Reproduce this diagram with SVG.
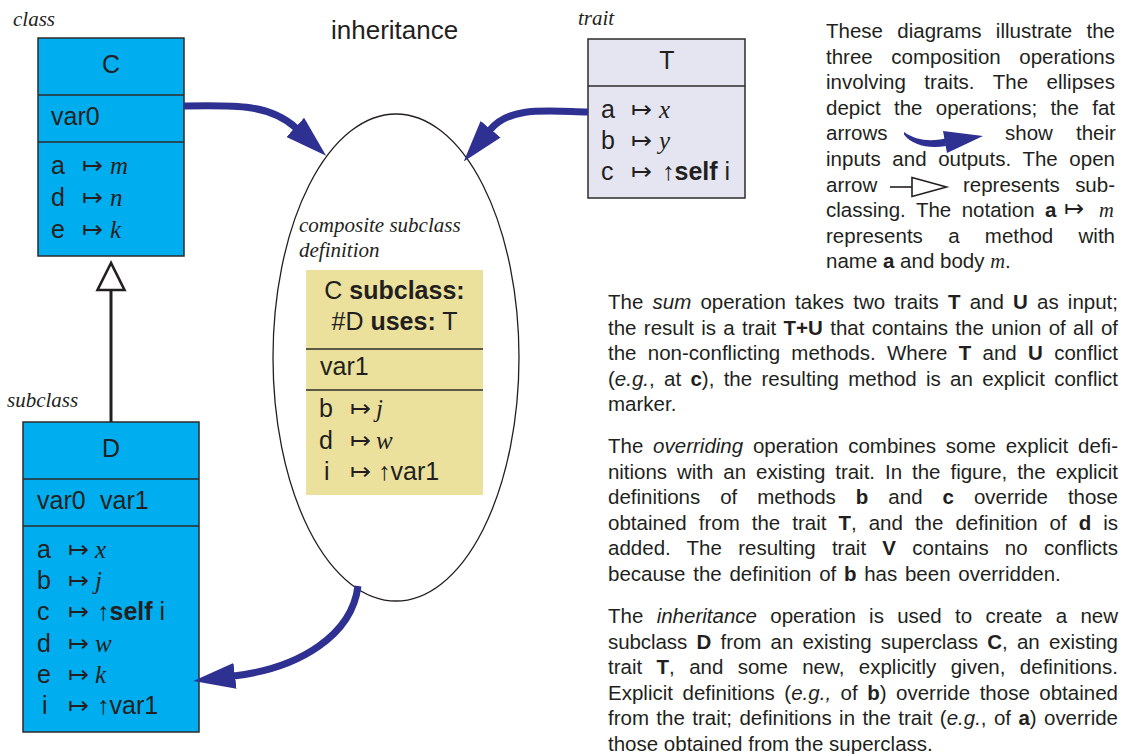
<svg xmlns="http://www.w3.org/2000/svg" width="1126" height="754" viewBox="0 0 1126 754">
<defs>
<style>
.bx{stroke:#2b2b2b;stroke-width:1.5}
.cls{fill:#00aeef}
.trt{fill:#e5e5f2}
.def{fill:#ebe19c}
.rule{stroke:#2b2b2b;stroke-width:1.5}
.nm{font-family:"Liberation Sans",Arial,sans-serif;font-size:25px;fill:#231f20}
.map{font-family:"DejaVu Sans",sans-serif;font-weight:200}
.body{font-family:"Liberation Serif","Times New Roman",serif;font-style:italic}
.b{font-weight:bold}
.i{font-style:italic}
.cap{font-family:"Liberation Serif","Times New Roman",serif;font-style:italic;font-size:21px;fill:#231f20}
.p{font-family:"Liberation Sans",Arial,sans-serif;font-size:20.5px;fill:#231f20}
.fat{fill:none;stroke:#2e3192;stroke-width:7}
</style>
<marker id="fathead" markerUnits="userSpaceOnUse" markerWidth="42" markerHeight="26" refX="1" refY="13" orient="auto" viewBox="0 0 42 26">
<path d="M0,0 L42,13 L0,26 Z" fill="#2e3192"/>
</marker>
</defs>
<rect width="1126" height="754" fill="#fff"/>

<!-- operation title -->
<text x="331" y="39" font-family="Liberation Sans, Arial, sans-serif" font-size="26" fill="#231f20">inheritance</text>

<!-- superclass C -->
<g id="class-C">
<text class="cap" x="13" y="26">class</text>
<rect class="bx cls" x="38" y="38" width="146" height="218"/>
<line class="rule" x1="38" y1="95" x2="184" y2="95"/>
<line class="rule" x1="38" y1="142" x2="184" y2="142"/>
<text class="nm" x="111" y="73" text-anchor="middle">C</text>
<text class="nm" x="51" y="125">var0</text>
<text class="nm" y="174"><tspan x="51">a</tspan><tspan x="82" class="map">↦</tspan><tspan x="110" class="body">m</tspan></text>
<text class="nm" y="206"><tspan x="51">d</tspan><tspan x="82" class="map">↦</tspan><tspan x="110" class="body">n</tspan></text>
<text class="nm" y="238"><tspan x="51">e</tspan><tspan x="82" class="map">↦</tspan><tspan x="110" class="body">k</tspan></text>
</g>

<!-- subclass D -->
<g id="class-D">
<text class="cap" x="7" y="407">subclass</text>
<rect class="bx cls" x="23" y="422" width="176" height="310"/>
<line class="rule" x1="23" y1="479" x2="199" y2="479"/>
<line class="rule" x1="23" y1="526" x2="199" y2="526"/>
<text class="nm" x="111" y="457" text-anchor="middle">D</text>
<text class="nm" y="509"><tspan x="37">var0</tspan><tspan x="100">var1</tspan></text>
<text class="nm" y="558"><tspan x="37">a</tspan><tspan x="68" class="map">↦</tspan><tspan x="95" class="body">x</tspan></text>
<text class="nm" y="589"><tspan x="37">b</tspan><tspan x="68" class="map">↦</tspan><tspan x="95" class="body">j</tspan></text>
<text class="nm" y="620"><tspan x="37">c</tspan><tspan x="68" class="map">↦</tspan><tspan x="97">↑</tspan><tspan class="b">self</tspan> i</text>
<text class="nm" y="652"><tspan x="37">d</tspan><tspan x="68" class="map">↦</tspan><tspan x="95" class="body">w</tspan></text>
<text class="nm" y="683"><tspan x="37">e</tspan><tspan x="68" class="map">↦</tspan><tspan x="95" class="body">k</tspan></text>
<text class="nm" y="714"><tspan x="42">i</tspan><tspan x="68" class="map">↦</tspan><tspan x="97">↑var1</tspan></text>
</g>

<!-- trait T -->
<g id="trait-T">
<text class="cap" x="578" y="25">trait</text>
<rect class="bx trt" x="588" y="39" width="157" height="159"/>
<line class="rule" x1="588" y1="86" x2="745" y2="86"/>
<text class="nm" x="667" y="69" text-anchor="middle">T</text>
<text class="nm" y="118"><tspan x="601">a</tspan><tspan x="631" class="map">↦</tspan><tspan x="659" class="body">x</tspan></text>
<text class="nm" y="149"><tspan x="601">b</tspan><tspan x="631" class="map">↦</tspan><tspan x="659" class="body">y</tspan></text>
<text class="nm" y="180"><tspan x="601">c</tspan><tspan x="631" class="map">↦</tspan><tspan x="662">↑</tspan><tspan class="b">self</tspan> i</text>
</g>

<!-- inheritance operation with the composite subclass definition -->
<g id="op-inheritance">
<ellipse cx="396" cy="357.5" rx="123" ry="243.5" fill="none" stroke="#231f20" stroke-width="1.3"/>
<text class="cap" x="299" y="232">composite subclass</text>
<text class="cap" x="299" y="257">definition</text>
<rect class="def" x="306" y="270" width="177" height="225"/>
<line class="rule" x1="306" y1="349" x2="483" y2="349"/>
<line class="rule" x1="306" y1="390" x2="483" y2="390"/>
<text class="nm" x="394.5" y="299" text-anchor="middle">C <tspan class="b">subclass:</tspan></text>
<text class="nm" x="394.5" y="330" text-anchor="middle">#D <tspan class="b">uses:</tspan> T</text>
<text class="nm" x="320" y="375">var1</text>
<text class="nm" y="417"><tspan x="319">b</tspan><tspan x="350" class="map">↦</tspan><tspan x="376" class="body">j</tspan></text>
<text class="nm" y="449"><tspan x="319">d</tspan><tspan x="350" class="map">↦</tspan><tspan x="376" class="body">w</tspan></text>
<text class="nm" y="480"><tspan x="324">i</tspan><tspan x="350" class="map">↦</tspan><tspan x="378">↑var1</tspan></text>
</g>

<!-- connectors -->
<g id="connectors">
<line x1="111" y1="290" x2="111" y2="422" stroke="#231f20" stroke-width="3"/>
<polygon points="111,263 97.5,290 124.5,290" fill="#fff" stroke="#231f20" stroke-width="2.6" stroke-linejoin="miter"/>
<path class="fat" d="M184,106 C235,105 270,104 296,128" marker-end="url(#fathead)"/>
<path class="fat" d="M588,112 C545,111 510,106 490,130" marker-end="url(#fathead)"/>
<path class="fat" d="M358,586 C352,635 300,668 234,676" marker-end="url(#fathead)"/>
</g>

<!-- explanatory text -->
<g id="notes" class="p">
<text class="p" x="826" y="38" textLength="289" lengthAdjust="spacing" style="word-spacing:8.6px">These diagrams illustrate the</text>
<text class="p" x="826" y="63.6" textLength="289" lengthAdjust="spacing" style="word-spacing:12.9px">three composition operations</text>
<text class="p" x="826" y="89.2" textLength="289" lengthAdjust="spacing" style="word-spacing:12.8px">involving traits. The ellipses</text>
<text class="p" x="826" y="114.8" textLength="289" lengthAdjust="spacing" style="word-spacing:7.6px">depict the operations; the fat</text>
<text class="p" y="140.4"><tspan x="826">arrows</tspan><tspan x="1005">show</tspan><tspan x="1076">their</tspan></text>
<path d="M904,132 C915,140 930,142 945,138.5 L946,146 C928,149 912,145 904,134.5 Z" fill="#2e3192"/>
<polygon points="943,131 983,136 947,153" fill="#2e3192"/>
<text class="p" x="826" y="166" textLength="289" lengthAdjust="spacing" style="word-spacing:5.9px">inputs and outputs. The open</text>
<text class="p" x="826" y="191.6">arrow</text>
<line x1="890" y1="187" x2="912" y2="187" stroke="#231f20" stroke-width="1.6"/>
<polygon points="912,177.5 946.5,187 912,196.5" fill="#fff" stroke="#231f20" stroke-width="1.6"/>
<text class="p" x="963" y="191.6" textLength="152" lengthAdjust="spacing" style="word-spacing:9.6px">represents sub-</text>
<text class="p" y="217.2"><tspan x="826" style="word-spacing:4.8px">classing. The notation</tspan><tspan x="1045" class="b">a</tspan><tspan x="1064" class="map" font-size="24">↦</tspan><tspan x="1099" class="body">m</tspan></text>
<text class="p" x="826" y="242.8" textLength="289" lengthAdjust="spacing" style="word-spacing:19.6px">represents a method with</text>
<text class="p" x="826" y="268.4">name <tspan class="b">a</tspan> and body <tspan class="body">m</tspan>.</text>

<text class="p" x="608" y="309" textLength="510" lengthAdjust="spacing" style="word-spacing:3.5px">The <tspan class="i">sum</tspan> operation takes two traits <tspan class="b">T</tspan> and <tspan class="b">U</tspan> as input;</text>
<text class="p" x="608" y="334.5" textLength="510" lengthAdjust="spacing" style="word-spacing:1.6px">the result is a trait <tspan class="b">T+U</tspan> that contains the union of all of</text>
<text class="p" x="608" y="360" textLength="510" lengthAdjust="spacing" style="word-spacing:5.6px">the non-conflicting methods. Where <tspan class="b">T</tspan> and <tspan class="b">U</tspan> conflict</text>
<text class="p" x="608" y="385.5" textLength="510" lengthAdjust="spacing" style="word-spacing:3.6px">(<tspan class="i">e.g.</tspan>, at <tspan class="b">c</tspan>), the resulting method is an explicit conflict</text>
<text class="p" x="608" y="411">marker.</text>

<text class="p" x="608" y="453" textLength="510" lengthAdjust="spacing" style="word-spacing:4.1px">The <tspan class="i">overriding</tspan> operation combines some explicit defi-</text>
<text class="p" x="608" y="478.5" textLength="510" lengthAdjust="spacing" style="word-spacing:4.4px">nitions with an existing trait. In the figure, the explicit</text>
<text class="p" x="608" y="504" textLength="510" lengthAdjust="spacing" style="word-spacing:14.3px">definitions of methods <tspan class="b">b</tspan> and <tspan class="b">c</tspan> override those</text>
<text class="p" x="608" y="529.5" textLength="510" lengthAdjust="spacing" style="word-spacing:6.3px">obtained from the trait <tspan class="b">T</tspan>, and the definition of <tspan class="b">d</tspan> is</text>
<text class="p" x="608" y="555" textLength="510" lengthAdjust="spacing" style="word-spacing:10.5px">added. The resulting trait <tspan class="b">V</tspan> contains no conflicts</text>
<text class="p" x="608" y="580.5" style="word-spacing:2px">because the definition of <tspan class="b">b</tspan> has been overridden.</text>

<text class="p" x="608" y="623" textLength="510" lengthAdjust="spacing" style="word-spacing:7.6px">The <tspan class="i">inheritance</tspan> operation is used to create a new</text>
<text class="p" x="608" y="648.5" textLength="510" lengthAdjust="spacing" style="word-spacing:3.7px">subclass <tspan class="b">D</tspan> from an existing superclass <tspan class="b">C</tspan>, an existing</text>
<text class="p" x="608" y="674" textLength="510" lengthAdjust="spacing" style="word-spacing:8.6px">trait <tspan class="b">T</tspan>, and some new, explicitly given, definitions.</text>
<text class="p" x="608" y="699.5" textLength="510" lengthAdjust="spacing" style="word-spacing:3.8px">Explicit definitions (<tspan class="i">e.g.,</tspan> of <tspan class="b">b</tspan>) override those obtained</text>
<text class="p" x="608" y="725" textLength="510" lengthAdjust="spacing" style="word-spacing:1.7px">from the trait; definitions in the trait (<tspan class="i">e.g.</tspan>, of <tspan class="b">a</tspan>) override</text>
<text class="p" x="608" y="750.5">those obtained from the superclass.</text>
</g>
</svg>
